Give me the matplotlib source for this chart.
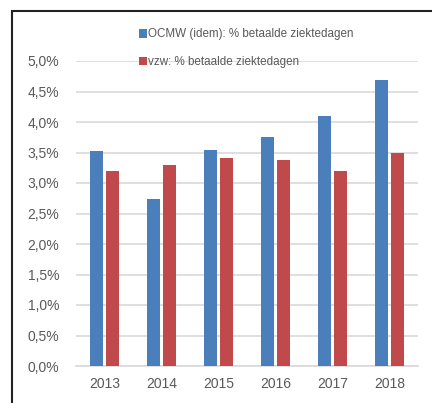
import numpy as np
import matplotlib.pyplot as plt
from matplotlib.patches import Rectangle
from matplotlib.ticker import FuncFormatter

plt.rcParams["font.family"] = ["Liberation Sans", "DejaVu Sans"]

jaren = ["2013", "2014", "2015", "2016", "2017", "2018"]
ocmw = [3.52, 2.73, 3.54, 3.75, 4.10, 4.69]
vzw = [3.20, 3.30, 3.41, 3.38, 3.20, 3.49]

fig = plt.figure(figsize=(4.32, 4.03), dpi=100)
ax = fig.add_axes([76 / 432, 37 / 403, 342 / 432, 305 / 403])

x = np.arange(len(jaren))
w = 0.23
ax.bar(x - w / 2 - 0.025, ocmw, w, color="#4A7FBC", label="OCMW (idem): % betaalde ziektedagen", zorder=3)
ax.bar(x + w / 2 + 0.025, vzw, w, color="#C0494B", label="vzw: % betaalde ziektedagen", zorder=3)

ax.set_xlim(-0.5, 5.5)
ax.set_ylim(0, 5.0)
ax.set_yticks(np.arange(0, 5.01, 0.5))
ax.yaxis.set_major_formatter(FuncFormatter(lambda v, p: f"{v:.1f}%".replace(".", ",")))
ax.set_xticks(x)
ax.set_xticklabels(jaren)
ax.grid(axis="y", color="#D9D9D9", lw=1.2, zorder=0)
for s in ["top", "right", "left"]:
    ax.spines[s].set_visible(False)
ax.spines["bottom"].set_color("#D9D9D9")
ax.spines["bottom"].set_linewidth(1.2)
ax.tick_params(length=0, labelsize=10, colors="#595959", pad=12)
ax.tick_params(axis="x", pad=8)

ax.legend(loc="upper left", bbox_to_anchor=(128 / 432, 385 / 403), bbox_transform=fig.transFigure,
          frameon=False, fontsize=8.4, handlelength=0.75, handleheight=0.75, handletextpad=0.1,
          labelspacing=1.35, labelcolor="#595959")

fig.patches.append(Rectangle((12 / 432, -0.1), 1.2, (392 / 403) + 0.1, transform=fig.transFigure,
                             fill=False, ec="#222222", lw=1.5))

fig.savefig("out.png", dpi=100)
